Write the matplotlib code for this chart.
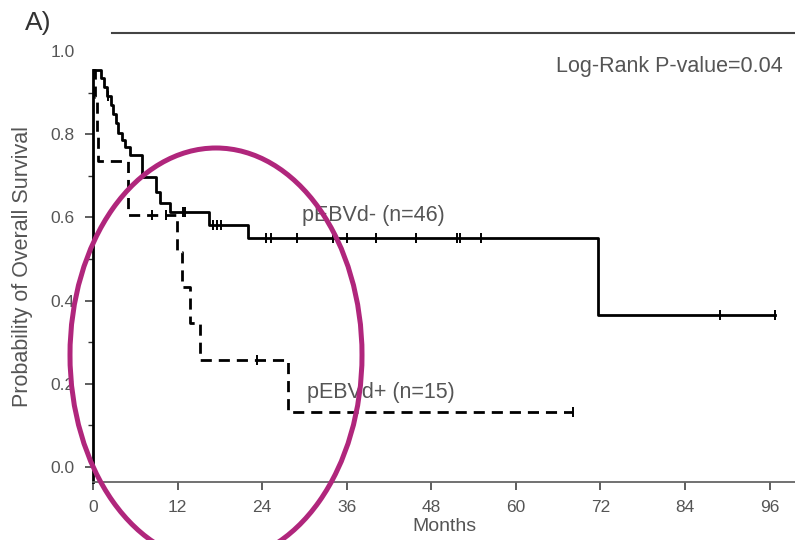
import numpy as np
import matplotlib
matplotlib.use('Agg')
import matplotlib.pyplot as plt
from matplotlib.patches import Ellipse
from matplotlib.lines import Line2D

plt.rcParams['font.family'] = ['Liberation Sans', 'DejaVu Sans']

# --- Kaplan-Meier data ---
# pEBVd- (solid)
neg_times = [0, 1.1, 1.5, 2.0, 2.5, 2.8, 3.2, 3.6, 4.1, 4.6, 5.2, 6.9, 9.0, 9.5,
             10.9, 16.4, 22.0, 71.6, 96.7]
neg_surv = [0.955, 0.935, 0.913, 0.891, 0.870, 0.848, 0.826, 0.804, 0.786, 0.770,
            0.750, 0.698, 0.660, 0.635, 0.614, 0.582, 0.550, 0.365, 0.365]
neg_censored = [2.1, 12.8, 13.1, 17.0, 17.6, 18.2, 24.6, 25.2, 28.9, 34.0, 36.0,
                40.2, 45.8, 51.7, 52.0, 55.1, 89.0, 96.7]

# pEBVd+ (dashed)
pos_times = [0, 0.3, 0.5, 0.7, 5.0, 11.9, 12.6, 13.8, 15.2, 27.7, 68.1]
pos_surv = [0.955, 0.89, 0.80, 0.735, 0.606, 0.518, 0.433, 0.345, 0.257, 0.133, 0.133]
pos_censored = [8.3, 10.4, 23.2, 68.1]

x_ticks = [0, 12, 24, 36, 48, 60, 72, 84, 96]
y_ticks = [0.0, 0.2, 0.4, 0.6, 0.8, 1.0]
y_labels = ['0.0', '0.2', '0.4', '0.6', '0.8', '1.0']

neg_label = 'pEBVd- (n=46)'
pos_label = 'pEBVd+ (n=15)'
pvalue_text = 'Log-Rank P-value=0.04'


def step_value(times, surv, t):
    # survival level at time t for a right-continuous step curve
    idx = np.searchsorted(times, t, side='right') - 1
    return np.array(surv)[idx]


fig = plt.figure(figsize=(7.95, 5.40), dpi=100)
ax = fig.add_axes([0.117, 0.1074, 0.883, 0.7982])

ax.step(neg_times, neg_surv, where='post', color='black', lw=2.0)
ax.step(pos_times, pos_surv, where='post', color='black', lw=2.0,
        linestyle=(0, (4, 2.5)))

ax.plot(neg_censored, step_value(neg_times, neg_surv, neg_censored), '|',
        color='black', ms=7, mew=1.4)
ax.plot(pos_censored, step_value(pos_times, pos_surv, pos_censored), '|',
        color='black', ms=7, mew=1.4)

ax.set_xlim(0, 99.6)
ax.set_ylim(-0.036, 1.0)
ax.set_xticks(x_ticks)
ax.set_yticks(y_ticks)
ax.set_yticklabels(y_labels)
ax.set_yticks([0.1, 0.3, 0.5, 0.7, 0.9], minor=True)
ax.tick_params(axis='both', which='major', direction='out', length=6, width=1.1,
               color='#333333', labelsize=12.5, labelcolor='#555555', pad=7)
ax.tick_params(axis='y', which='minor', direction='out', length=3.5, width=1,
               color='#333333')
ax.yaxis.get_major_ticks()[-1].tick1line.set_visible(False)

for side in ['top', 'right']:
    ax.spines[side].set_visible(False)
ax.spines['left'].set_color('black')
ax.spines['left'].set_linewidth(2.0)
ax.spines['left'].set_bounds(-0.036, 0.955)
ax.spines['bottom'].set_color('#666666')
ax.spines['bottom'].set_linewidth(1.3)

ax.set_xlabel('Months', fontsize=14, color='#555555', labelpad=2)
ax.set_ylabel('Probability of Overall Survival', fontsize=15.5, color='#555555',
              labelpad=13)

ax.text(0.983, 0.963, pvalue_text, transform=ax.transAxes, ha='right',
        va='center', fontsize=15.5, color='#555555')
ax.text(29.6, 0.605, neg_label, ha='left', va='center', fontsize=15.5,
        color='#555555')
ax.text(30.3, 0.18, pos_label, ha='left', va='center', fontsize=15.5,
        color='#555555')

# panel tag and top rule
fig.text(0.031, 0.958, 'A)', fontsize=19, color='#333333', ha='left',
         va='center')
fig.add_artist(Line2D([112 / 795, 1.0], [1 - 33 / 540, 1 - 33 / 540],
                      color='#444444', lw=1.5, transform=fig.transFigure))

# magenta highlight ellipse
fig.add_artist(Ellipse((2.16, 1.85), 2.92, 4.14, transform=fig.dpi_scale_trans,
                       fill=False, edgecolor='#B0267C', lw=3.6, zorder=10))

fig.savefig('out.png', dpi=100)
